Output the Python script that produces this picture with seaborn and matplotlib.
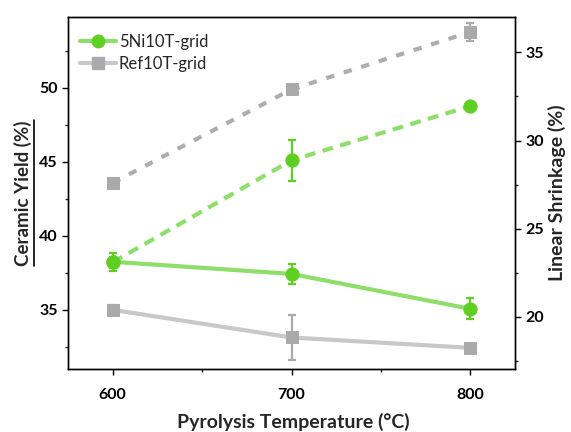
import matplotlib
matplotlib.use("Agg")
import matplotlib.pyplot as plt
import seaborn as sns
import pandas as pd
from matplotlib.lines import Line2D
from matplotlib.ticker import MultipleLocator

sns.set_style("ticks")
plt.rcParams['font.family'] = ['Lato', 'DejaVu Sans']
plt.rcParams['font.weight'] = 'bold'

temps = [600, 700, 800]
series_names = ["5Ni10T-grid", "Ref10T-grid"]
yield_5ni = [38.25, 37.43, 35.07]
yield_5ni_err = [0.6, 0.65, 0.7]
yield_ref = [35.0, 33.13, 32.43]
yield_ref_err = [0.3, 1.5, 0.2]
shrink_5ni = [23.1, 28.88, 31.95]
shrink_5ni_err = [0.3, 1.15, 0.25]
shrink_ref = [27.6, 32.9, 36.15]
shrink_ref_err = [0.2, 0.2, 0.5]

green_line = '#8EDE6A'
green_mark = '#5FCF22'
gray_line = '#C8C8C8'
gray_dash = '#ADADAD'
gray_mark = '#AAAAAA'

fig = plt.figure(figsize=(5.71, 4.32), dpi=100)
ax = fig.add_axes([68/571, 1-369/432, (515-68)/571, (369-17)/432])
ax2 = ax.twinx()

df_y5 = pd.DataFrame({"T": temps, "v": yield_5ni})
df_yr = pd.DataFrame({"T": temps, "v": yield_ref})
df_s5 = pd.DataFrame({"T": temps, "v": shrink_5ni})
df_sr = pd.DataFrame({"T": temps, "v": shrink_ref})

# left axis: ceramic yield (solid)
ax.errorbar(temps, yield_ref, yerr=yield_ref_err, fmt='none', ecolor=gray_mark,
            elinewidth=1.6, capsize=3, capthick=1.6, zorder=2)
sns.lineplot(data=df_yr, x="T", y="v", ax=ax, color=gray_line, lw=3,
             marker='s', markersize=9, markerfacecolor=gray_mark, markeredgecolor=gray_mark,
             zorder=3)
ax.errorbar(temps, yield_5ni, yerr=yield_5ni_err, fmt='none', ecolor=green_mark,
            elinewidth=1.6, capsize=3, capthick=1.6, zorder=2)
sns.lineplot(data=df_y5, x="T", y="v", ax=ax, color=green_line, lw=3,
             marker='o', markersize=9.5, markerfacecolor=green_mark, markeredgecolor=green_mark,
             zorder=3)

# right axis: linear shrinkage (dashed)
ax2.errorbar(temps, shrink_ref, yerr=shrink_ref_err, fmt='none', ecolor=gray_mark,
             elinewidth=1.6, capsize=3, capthick=1.6, zorder=2)
sns.lineplot(data=df_sr, x="T", y="v", ax=ax2, color=gray_dash, lw=3,
             marker='s', markersize=9, markerfacecolor=gray_mark, markeredgecolor=gray_mark,
             zorder=3)
ax2.lines[-1].set_dashes((2.0, 2.4))
ax2.errorbar(temps, shrink_5ni, yerr=shrink_5ni_err, fmt='none', ecolor=green_mark,
             elinewidth=1.6, capsize=3, capthick=1.6, zorder=2)
sns.lineplot(data=df_s5, x="T", y="v", ax=ax2, color=green_line, lw=3,
             marker='o', markersize=9.5, markerfacecolor=green_mark, markeredgecolor=green_mark,
             zorder=3)
ax2.lines[-1].set_dashes((2.6, 1.8))

ax.set_xlim(575, 825)
ax.set_ylim(31.0, 54.8)
ax2.set_ylim(17.05, 37.0)

ax.set_xticks(temps)
ax.xaxis.set_minor_locator(MultipleLocator(50))
ax.yaxis.set_major_locator(MultipleLocator(5))
ax.yaxis.set_minor_locator(MultipleLocator(2.5))
ax2.yaxis.set_major_locator(MultipleLocator(5))
ax2.yaxis.set_minor_locator(MultipleLocator(2.5))

for a in (ax, ax2):
    for s in a.spines.values():
        s.set_visible(True)
        s.set_linewidth(1.0)
        s.set_color('black')
    a.tick_params(which='major', direction='out', length=4, width=1, labelsize=11.5, colors='black')
    a.tick_params(which='minor', direction='out', length=2.5, width=1)
ax.tick_params(axis='x', which='major', pad=10)
for lab in ax.get_xticklabels() + ax.get_yticklabels() + ax2.get_yticklabels():
    lab.set_fontweight('bold')

ax.set_xlabel("Pyrolysis Temperature (°C)", fontsize=14, fontweight='bold')
ax.set_ylabel("Ceramic Yield (%)", fontsize=13.5, fontweight='bold')
ax2.set_ylabel("Linear Shrinkage (%)", fontsize=14, fontweight='bold', rotation=90)
ax.xaxis.set_label_coords(0.503, -0.124)
ax.yaxis.set_label_coords(-0.08, 0.5)
ax2.yaxis.set_label_coords(1.074, 0.5)

handles = [
    Line2D([], [], color=green_line, lw=3, marker='o', markersize=9,
           markerfacecolor=green_mark, markeredgecolor=green_mark),
    Line2D([], [], color=gray_line, lw=3, marker='s', markersize=8.5,
           markerfacecolor=gray_mark, markeredgecolor=gray_mark),
]
leg = ax.legend(handles, series_names, loc='upper left', bbox_to_anchor=(0.0, 0.985),
                frameon=False, fontsize=12, handlelength=2.2, handletextpad=0.15,
                labelspacing=0.35, borderaxespad=0.3)
for t in leg.get_texts():
    t.set_fontweight('normal')

# underline of the left axis label, placed from the label's drawn extent
fig.canvas.draw()
bb = ax.yaxis.label.get_window_extent(fig.canvas.get_renderer())
W, H = fig.bbox.width, fig.bbox.height
ux = (bb.x1 + 2) / W
fig.add_artist(Line2D([ux, ux], [bb.y0 / H, bb.y1 / H], color='black', lw=1.2))

fig.savefig("out.png", dpi=100)
